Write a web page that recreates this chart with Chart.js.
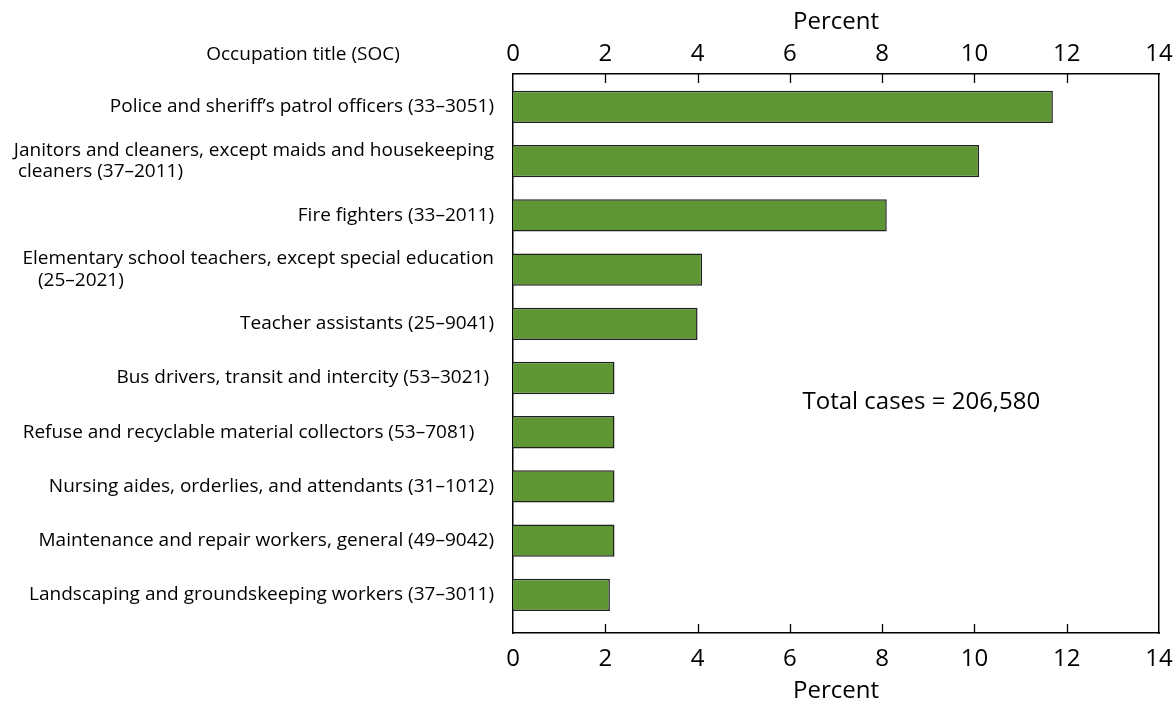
<!DOCTYPE html>
<html><head><meta charset="utf-8">
<script src="https://cdn.jsdelivr.net/npm/chart.js@4.4.0/dist/chart.umd.min.js"></script>
<style>html,body{margin:0;padding:0;background:#fff}#wrap{width:1173px;height:707px}</style>
</head><body><div id="wrap"><canvas id="c" width="1173" height="707"></canvas></div>
<script>
// ---- data ----
const categories = [
  ["Police and sheriff’s patrol officers (33–3051)"],
  ["Janitors and cleaners, except maids and housekeeping", "cleaners (37–2011)"],
  ["Fire fighters (33–2011)"],
  ["Elementary school teachers, except special education", "(25–2021)"],
  ["Teacher assistants (25–9041)"],
  ["Bus drivers, transit and intercity (53–3021)"],
  ["Refuse and recyclable material collectors (53–7081)"],
  ["Nursing aides, orderlies, and attendants (31–1012)"],
  ["Maintenance and repair workers, general (49–9042)"],
  ["Landscaping and groundskeeping workers (37–3011)"]
];
const percentValues = [11.7, 10.1, 8.1, 4.1, 4.0, 2.2, 2.2, 2.2, 2.2, 2.1];
const xTickValues = [0, 2, 4, 6, 8, 10, 12, 14];
const axisTitle = "Percent";
const categoryHeader = "Occupation title (SOC)";
const noteText = "Total cases = 206,580";

// ---- styling ----
const FONT = "'Open Sans', 'Noto Sans', sans-serif";
const LABEL_SIZE = 19;
const TICK_SIZE = 24;
const trailingGap = {5: 8, 6: 21};      // px of trailing gap after label
const secondLineIndent = {1: 4, 3: 15}; // px indent of wrapped line vs first line

Chart.defaults.font.family = FONT;
Chart.defaults.color = '#000';

const mctx = document.createElement('canvas').getContext('2d');
mctx.font = LABEL_SIZE + 'px ' + FONT;
function padTo(str, target) {
  let s = str;
  while (mctx.measureText(s + ' ').width <= target) s += ' ';
  return s;
}
function labelLines(i) {
  const lines = categories[i].slice();
  if (trailingGap[i]) lines[0] = padTo(lines[0], mctx.measureText(lines[0]).width + trailingGap[i]);
  if (lines.length > 1) {
    const w1 = mctx.measureText(lines[0]).width;
    lines[1] = padTo(lines[1], w1 - (secondLineIndent[i] || 0));
  }
  return lines.length === 1 ? lines[0] : lines;
}

const innerTicks = {
  id: 'innerTicks',
  afterDraw(chart) {
    const ctx = chart.ctx, a = chart.chartArea;
    ctx.save();
    ctx.strokeStyle = '#000';
    ctx.lineWidth = 1.3;
    const xs = chart.scales.x;
    xTickValues.slice(1, -1).forEach(v => {
      const px = Math.round(xs.getPixelForValue(v)) + 0.5;
      ctx.beginPath();
      ctx.moveTo(px, a.top); ctx.lineTo(px, a.top + 9);
      ctx.moveTo(px, a.bottom); ctx.lineTo(px, a.bottom - 9);
      ctx.stroke();
    });
    ctx.fillStyle = '#000';
    ctx.textBaseline = 'middle';
    ctx.font = LABEL_SIZE + 'px ' + FONT;
    ctx.textAlign = 'center';
    ctx.fillText(categoryHeader, a.left - 210, a.top - 19);
    ctx.font = TICK_SIZE + 'px ' + FONT;
    ctx.fillText(noteText, xs.getPixelForValue(8.85), chart.scales.y.getPixelForValue(5.45));
    ctx.restore();
  }
};

const yRange = {min: -0.607, max: 9.703};
const noSidePadding = s => { s.paddingLeft = 0; s.paddingRight = 0; };

new Chart(document.getElementById('c'), {
  type: 'bar',
  data: {
    datasets: [{
      data: percentValues.map((v, i) => ({x: v, y: i})),
      backgroundColor: '#5e9634',
      borderColor: '#1f1f1f',
      borderWidth: 1.5,
      barPercentage: 1,
      categoryPercentage: 0.596,
      xAxisID: 'x',
      yAxisID: 'y'
    }]
  },
  options: {
    indexAxis: 'y',
    responsive: false,
    animation: false,
    layout: {padding: 0},
    plugins: {legend: {display: false}, tooltip: {enabled: false}},
    scales: {
      x: {
        type: 'linear', position: 'bottom', min: 0, max: 14,
        afterBuildTicks: s => { s.ticks = xTickValues.map(v => ({value: v})); },
        ticks: {font: {size: TICK_SIZE}, padding: 12, color: '#000'},
        grid: {display: false, drawTicks: false},
        border: {display: true, color: '#000', width: 1.5},
        title: {display: true, text: axisTitle, font: {size: TICK_SIZE}, color: '#000', padding: {top: 0, bottom: 1}},
        afterFit: s => { s.height = 74; noSidePadding(s); }
      },
      x2: {
        type: 'linear', position: 'top', min: 0, max: 14,
        afterBuildTicks: s => { s.ticks = xTickValues.map(v => ({value: v})); },
        ticks: {font: {size: TICK_SIZE}, padding: 5, color: '#000'},
        grid: {display: false, drawTicks: false},
        border: {display: true, color: '#000', width: 1.5},
        title: {display: true, text: axisTitle, font: {size: TICK_SIZE}, color: '#000', padding: {top: 8, bottom: 0}},
        afterFit: s => { s.height = 74; noSidePadding(s); }
      },
      y: {
        type: 'linear', position: 'left', reverse: true, offset: false,
        min: yRange.min, max: yRange.max,
        afterBuildTicks: s => { s.ticks = categories.map((_, i) => ({value: i})); },
        ticks: {
          font: {size: LABEL_SIZE, lineHeight: 1.15}, padding: 19, color: '#000',
          callback: v => labelLines(v)
        },
        grid: {display: false, drawTicks: false, offset: false},
        border: {display: true, color: '#000', width: 1.5},
        afterFit: s => { s.width = 513; }
      },
      y2: {
        type: 'linear', position: 'right', reverse: true, offset: false,
        min: yRange.min, max: yRange.max,
        ticks: {display: false},
        grid: {display: false, drawTicks: false},
        border: {display: true, color: '#000', width: 1.5},
        afterFit: s => { s.width = 14; }
      }
    }
  },
  plugins: [innerTicks]
});
</script></body></html>
